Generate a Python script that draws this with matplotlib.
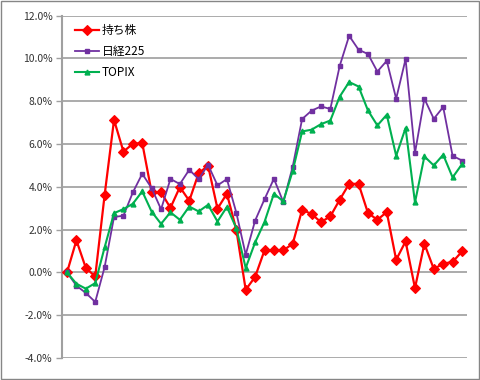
import matplotlib
matplotlib.use("Agg")
import matplotlib.pyplot as plt
from matplotlib.patches import Rectangle
from matplotlib.ticker import FuncFormatter, MultipleLocator

plt.rcParams['font.family'] = ['Noto Sans CJK JP', 'DejaVu Sans']

labels = ["持ち株", "日経225", "TOPIX"]

mochikabu = [0.0, 1.50, 0.21, -0.19, 3.62, 7.13, 5.65, 6.01, 6.05, 3.74, 3.74,
             3.02, 3.99, 3.35, 4.64, 4.99, 2.98, 3.68, 2.00, -0.81, -0.21,
             1.03, 1.03, 1.03, 1.34, 2.93, 2.73, 2.35, 2.62, 3.40, 4.14,
             4.14, 2.78, 2.46, 2.82, 0.59, 1.45, -0.73, 1.34, 0.16, 0.41,
             0.49, 0.98]

nikkei = [0.0, -0.62, -0.96, -1.38, 0.25, 2.59, 2.65, 3.74, 4.61, 3.94, 2.95,
          4.37, 4.13, 4.80, 4.36, 5.03, 4.07, 4.36, 2.80, 0.83, 2.42,
          3.42, 4.38, 3.29, 4.95, 7.17, 7.56, 7.76, 7.64, 9.66, 11.06,
          10.41, 10.21, 9.39, 9.89, 8.12, 9.97, 5.58, 8.12, 7.18, 7.73,
          5.45, 5.23]

topix = [0.0, -0.53, -0.76, -0.50, 1.17, 2.77, 2.96, 3.21, 3.79, 2.84, 2.27,
         2.81, 2.46, 3.08, 2.85, 3.16, 2.38, 3.06, 2.07, 0.21, 1.40,
         2.36, 3.68, 3.32, 4.75, 6.59, 6.67, 6.93, 7.10, 8.22, 8.90,
         8.69, 7.57, 6.87, 7.37, 5.45, 6.75, 3.27, 5.42, 5.00, 5.50,
         4.44, 5.06]

x = list(range(len(mochikabu)))

fig = plt.figure(figsize=(4.8, 3.8), dpi=100)
fig.patch.set_facecolor('white')
fig.patches.append(Rectangle((0.002, 0.003), 0.995, 0.994, transform=fig.transFigure,
                             fill=False, edgecolor='#868686', linewidth=1.0, zorder=0))

ax = fig.add_axes([0.1298, 0.0579, 0.8425, 0.9008])

ax.plot(x, mochikabu, color='#FF0000', lw=1.6, marker='D', markersize=5,
        markeredgewidth=0.8, label=labels[0], zorder=3)
ax.plot(x, nikkei, color='#7030A0', lw=1.3, marker='s', markersize=3,
        label=labels[1], zorder=4)
ax.plot(x, topix, color='#00B050', lw=1.5, marker='^', markersize=3.5,
        label=labels[2], zorder=5)

ax.set_xlim(-0.5, len(x) - 0.5)
ax.set_ylim(-4, 12)
ax.yaxis.set_major_locator(MultipleLocator(2))
ax.yaxis.set_major_formatter(FuncFormatter(lambda v, p: f"{v:.1f}%"))
ax.set_xticks([])
ax.grid(axis='y', color='#959595', lw=1.1)
ax.set_axisbelow(True)
for s in ['top', 'right', 'bottom']:
    ax.spines[s].set_visible(False)
ax.spines['left'].set_color('#a0a0a0')
ax.spines['left'].set_linewidth(1.5)
ax.tick_params(axis='y', length=4, width=1, color='#a0a0a0', labelsize=7.5,
               labelcolor='#333333', pad=3)

leg = ax.legend(loc='upper left', bbox_to_anchor=(0.02, 0.99), frameon=False,
                fontsize=8.5, handlelength=2.0, handletextpad=0.25,
                labelspacing=0.68, borderaxespad=0)

fig.savefig('out.png', dpi=100)
